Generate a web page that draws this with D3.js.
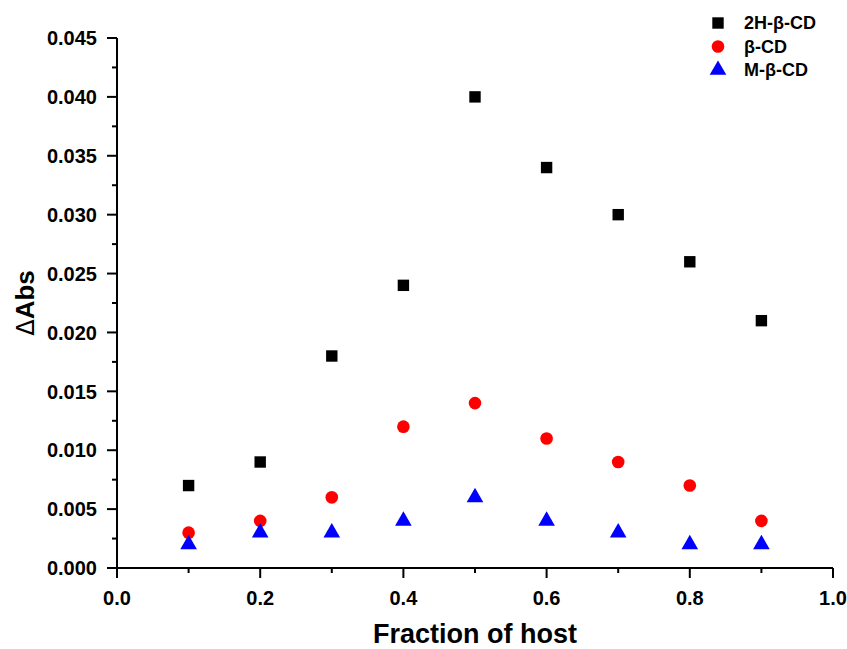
<!DOCTYPE html>
<html>
<head>
<meta charset="utf-8">
<script src="https://cdn.jsdelivr.net/npm/d3@7"></script>
<style>
  body { margin: 0; background: #fff; }
  text { font-family: Arial, "Liberation Sans", sans-serif; font-weight: bold; }
</style>
</head>
<body>
<svg id="chart" width="847" height="649"></svg>
<script>
// values
var fractions = [0.1, 0.2, 0.3, 0.4, 0.5, 0.6, 0.7, 0.8, 0.9];
var hbcd = [0.007, 0.009, 0.018, 0.024, 0.040, 0.034, 0.030, 0.026, 0.021];
var bcd = [0.003, 0.004, 0.006, 0.012, 0.014, 0.011, 0.009, 0.007, 0.004];
var mbcd = [0.002, 0.003, 0.003, 0.004, 0.006, 0.004, 0.003, 0.002, 0.002];
var seriesNames = ["2H-\u03b2-CD", "\u03b2-CD", "M-\u03b2-CD"];
var seriesColors = ["#000000", "#ff0000", "#0000ff"];
var xTicks = [0, 0.2, 0.4, 0.6, 0.8, 1.0];
var yTicks = [0, 0.005, 0.01, 0.015, 0.02, 0.025, 0.03, 0.035, 0.04, 0.045];

var svg = d3.select('#chart');

var plotLeft = 117, plotRight = 833, plotTop = 38, plotBottom = 568;

var x = d3.scaleLinear().domain([0, 1]).range([plotLeft, plotRight]);
var y = d3.scaleLinear().domain([0, 0.045]).range([plotBottom, plotTop]);

// minor ticks at the midpoints
var xMinor = [0.1, 0.3, 0.5, 0.7, 0.9];
var yMinor = [0.0025, 0.0075, 0.0125, 0.0175, 0.0225, 0.0275, 0.0325, 0.0375, 0.0425];

var g = svg.append('g');

g.append('line')
    .attr('x1', plotLeft).attr('x2', plotLeft)
    .attr('y1', plotTop).attr('y2', plotBottom)
    .attr('stroke', '#000').attr('stroke-width', 2);

g.append('line')
    .attr('x1', plotLeft).attr('x2', plotRight)
    .attr('y1', plotBottom).attr('y2', plotBottom)
    .attr('stroke', '#000').attr('stroke-width', 2);

g.selectAll('.ymaj').data(yTicks).enter().append('line')
    .attr('x1', plotLeft - 10).attr('x2', plotLeft)
    .attr('y1', d => y(d)).attr('y2', d => y(d))
    .attr('stroke', '#000').attr('stroke-width', 2);

g.selectAll('.ymin').data(yMinor).enter().append('line')
    .attr('x1', plotLeft - 5).attr('x2', plotLeft)
    .attr('y1', d => y(d)).attr('y2', d => y(d))
    .attr('stroke', '#000').attr('stroke-width', 2);

g.selectAll('.xmaj').data(xTicks).enter().append('line')
    .attr('x1', d => x(d)).attr('x2', d => x(d))
    .attr('y1', plotBottom).attr('y2', plotBottom + 10)
    .attr('stroke', '#000').attr('stroke-width', 2);

g.selectAll('.xmin').data(xMinor).enter().append('line')
    .attr('x1', d => x(d)).attr('x2', d => x(d))
    .attr('y1', plotBottom).attr('y2', plotBottom + 5)
    .attr('stroke', '#000').attr('stroke-width', 2);

g.selectAll('.ylab').data(yTicks).enter().append('text')
    .attr('x', plotLeft - 20)
    .attr('y', d => y(d))
    .attr('dy', '0.36em')
    .attr('text-anchor', 'end')
    .attr('font-size', 20)
    .text(d => d3.format('.3f')(d));

g.selectAll('.xlab').data(xTicks).enter().append('text')
    .attr('x', d => x(d))
    .attr('y', plotBottom + 37)
    .attr('text-anchor', 'middle')
    .attr('font-size', 20)
    .text(d => d3.format('.1f')(d));

svg.append('text')
    .attr('x', (plotLeft + plotRight) / 2)
    .attr('y', 643)
    .attr('text-anchor', 'middle')
    .attr('font-size', 27)
    .text('Fraction of host');

svg.append('text')
    .attr('transform', 'translate(34,' + ((plotTop + plotBottom) / 2) + ') rotate(-90)')
    .attr('text-anchor', 'middle')
    .attr('font-size', 26)
    .html('<tspan font-weight="normal" font-family="DejaVu Sans" font-size="24">\u0394</tspan>Abs');

var shapes = [d3.symbolSquare, d3.symbolCircle, d3.symbolTriangle];
var sizes = [130, 125, 120];
var allSeries = [hbcd, bcd, mbcd];

// draw black first, then red, then blue on top
allSeries.forEach(function(vals, s) {
    svg.append('g').selectAll('path')
        .data(vals).enter().append('path')
        .attr('d', d3.symbol().type(shapes[s]).size(sizes[s]))
        .attr('transform', (d, i) => 'translate(' + x(fractions[i]) + ',' + y(d) + ')')
        .attr('fill', seriesColors[s]);
});

var legend = svg.append('g');
seriesNames.forEach(function(name, s) {
    var ly = 23 + s * 23.5;
    legend.append('path')
        .attr('d', d3.symbol().type(shapes[s]).size(sizes[s]))
        .attr('transform', 'translate(718,' + ly + ')')
        .attr('fill', seriesColors[s]);
    legend.append('text')
        .attr('x', 744)
        .attr('y', ly)
        .attr('dy', '0.36em')
        .attr('font-size', 18)
        .text(name);
});
</script>
</body>
</html>
